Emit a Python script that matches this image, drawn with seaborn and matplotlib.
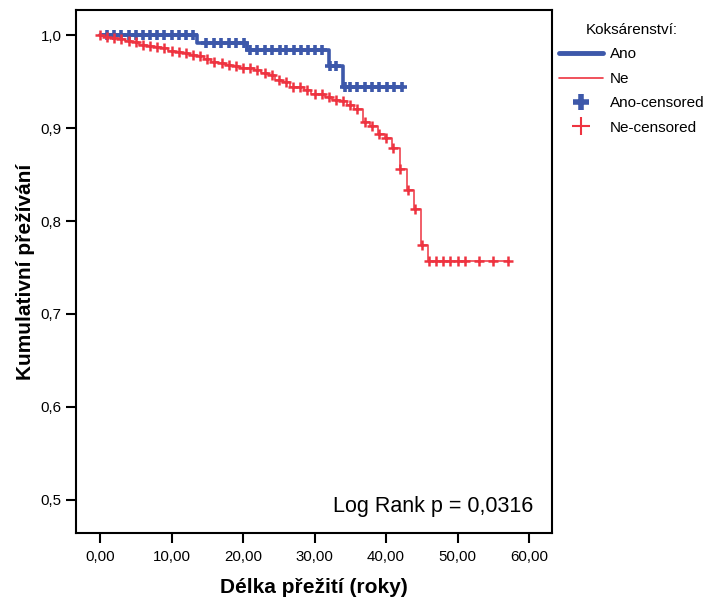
import numpy as np
import pandas as pd
import matplotlib
matplotlib.use('Agg')
import matplotlib.pyplot as plt
import seaborn as sns
from matplotlib.lines import Line2D
from matplotlib.ticker import FuncFormatter

# Kaplan-Meier curves: (time of drop, survival after drop)
ano_event_t = [13.5, 20.5, 32.0, 34.0]
ano_surv = [0.991, 0.984, 0.967, 0.944]
ano_cens = [1, 2, 3, 4, 5, 6, 7, 8, 9, 10, 11, 12, 13,
            14.8, 15.9, 16.9, 18.0, 19.0, 20.1,
            21, 22, 23.1, 24.1, 25.1, 26.0, 27.1, 28.1, 29.1, 30.1, 31.1,
            32.1, 33.0, 34.2, 35, 36, 37.1, 38, 39, 40.1, 41.1, 42.2]

ne_event_t = [0.5, 1.5, 2.5, 3.5, 4.5, 5.5, 6.5, 7.5, 8.5, 9.5, 10.5, 11.5,
              12.5, 13.5, 14.5, 15.5, 16.5, 17.5, 18.5, 19.5, 20.5, 21.5,
              22.5, 23.5, 24.5, 25.5, 26.5, 28.5, 29.5, 31.5, 32.5, 33.5,
              34.5, 35.5, 36.8, 37.7, 38.9, 39.8, 40.8, 41.9, 42.9, 43.9,
              44.9, 45.9]
ne_surv = [0.998, 0.9965, 0.9957, 0.994, 0.992, 0.989, 0.988, 0.987,
           0.9857, 0.983, 0.982, 0.981, 0.979, 0.977, 0.974, 0.971, 0.9695,
           0.968, 0.9667, 0.965, 0.964, 0.962, 0.959, 0.957, 0.952, 0.949,
           0.944, 0.941, 0.937, 0.933, 0.930, 0.929, 0.925, 0.920, 0.907,
           0.902, 0.894, 0.889, 0.878, 0.856, 0.833, 0.813, 0.774, 0.757]
ne_cens = list(range(0, 52)) + [53, 55, 57]

groups = ['Ano', 'Ne']
colors = {'Ano': '#3d58aa', 'Ne': '#ee3340'}
p_text = 'Log Rank p = 0,0316'


def km_frame(event_t, surv, cens):
    t = [0.0] + list(event_t) + [max(cens)]
    s = [1.0] + list(surv) + [surv[-1]]
    steps = pd.DataFrame({'t': t, 's': s})
    idx = np.searchsorted(np.array(t), np.array(cens), side='right') - 1
    marks = pd.DataFrame({'t': cens, 's': np.array(s)[idx]})
    return steps, marks


sns.set_style('ticks')
plt.rcParams['font.family'] = ['Liberation Sans', 'DejaVu Sans']
plt.rcParams['text.color'] = 'black'
plt.rcParams['axes.labelcolor'] = 'black'

fig, ax = plt.subplots(figsize=(7.09, 5.98), dpi=100)
ax.set_position([76 / 709, 65 / 598, 476 / 709, 523 / 598])

# Ano (thick) first, then Ne on top
st, mk = km_frame(ano_event_t, ano_surv, ano_cens)
sns.lineplot(data=st, x='t', y='s', ax=ax, estimator=None, sort=False,
             drawstyle='steps-post', color=colors['Ano'], linewidth=2.6)
sns.scatterplot(data=mk, x='t', y='s', ax=ax, marker='+', s=45,
                color=colors['Ano'], linewidth=2.6, zorder=3)

st, mk = km_frame(ne_event_t, ne_surv, ne_cens)
sns.lineplot(data=st, x='t', y='s', ax=ax, estimator=None, sort=False,
             drawstyle='steps-post', color=colors['Ne'], linewidth=1.1)
sns.scatterplot(data=mk, x='t', y='s', ax=ax, marker='+', s=60,
                color=colors['Ne'], linewidth=1.8, zorder=4)

ax.set_xlim(-3.36, 63.2)
ax.set_ylim(0.4645, 1.0269)
ax.set_xticks(np.arange(0, 61, 10))
ax.set_yticks([0.5, 0.6, 0.7, 0.8, 0.9, 1.0])
ax.xaxis.set_major_formatter(FuncFormatter(lambda v, p: f'{v:.2f}'.replace('.', ',')))
ax.yaxis.set_major_formatter(FuncFormatter(lambda v, p: f'{v:.1f}'.replace('.', ',')))
ax.tick_params(direction='out', length=7.5, width=1.5, labelsize=10.8,
               colors='black', pad=3)
ax.tick_params(axis='x', pad=5)
for sp in ax.spines.values():
    sp.set_visible(True)
    sp.set_linewidth(1.5)
    sp.set_color('black')

ax.set_xlabel('Délka přežití (roky)', fontsize=15, fontweight='bold', labelpad=10)
ax.set_ylabel('Kumulativní přežívání', fontsize=15, fontweight='bold', labelpad=4)

ax.text(0.960, 0.040, p_text, transform=ax.transAxes, ha='right',
        va='baseline', fontsize=15.5)

handles = [
    Line2D([], [], color=colors['Ano'], linewidth=3.5),
    Line2D([], [], color=colors['Ne'], linewidth=1.2),
    Line2D([], [], color=colors['Ano'], linestyle='none', marker='+',
           markersize=12, markeredgewidth=4),
    Line2D([], [], color=colors['Ne'], linestyle='none', marker='+',
           markersize=13, markeredgewidth=1.5),
]
labels = ['Ano', 'Ne', 'Ano-censored', 'Ne-censored']
fig.legend(handles, labels, title='Koksárenství:', loc='upper left',
           bbox_to_anchor=(553 / 709, 1 - 17 / 598), frameon=False,
           fontsize=11, title_fontsize=11, handlelength=2.9,
           handletextpad=0.4, labelspacing=0.68, borderaxespad=0)

fig.savefig('out.png', dpi=100)
